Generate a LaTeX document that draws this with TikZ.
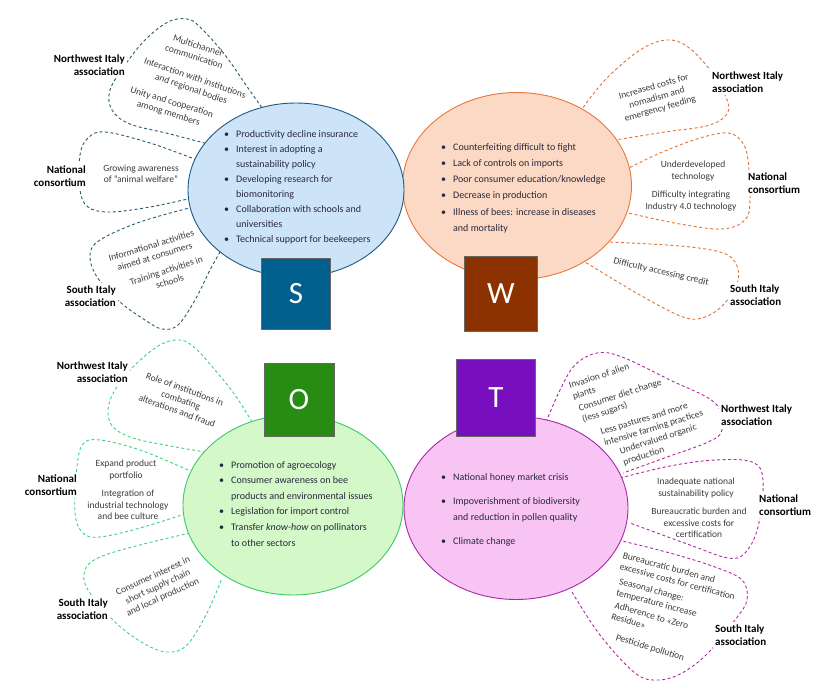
\documentclass[tikz,border=0pt]{standalone}
\usepackage{fontspec}
\setmainfont{Carlito}
\usetikzlibrary{shapes.geometric}
\definecolor{sFill}{RGB}{205,228,248}
\definecolor{sLine}{RGB}{30,90,130}
\definecolor{sDash}{RGB}{40,90,110}
\definecolor{sSq}{RGB}{0,95,140}
\definecolor{wFill}{RGB}{252,217,197}
\definecolor{wLine}{RGB}{230,120,60}
\definecolor{wDash}{RGB}{225,115,55}
\definecolor{wSq}{RGB}{140,50,0}
\definecolor{oFill}{RGB}{212,248,200}
\definecolor{oLine}{RGB}{60,200,110}
\definecolor{oDash}{RGB}{60,210,130}
\definecolor{oSq}{RGB}{40,140,20}
\definecolor{tFill}{RGB}{248,196,244}
\definecolor{tLine}{RGB}{170,40,170}
\definecolor{tDash}{RGB}{180,40,160}
\definecolor{tSq}{RGB}{120,15,190}
\definecolor{petalText}{RGB}{60,60,60}
\definecolor{listText}{RGB}{40,40,60}
\tikzset{
  petal/.style={draw=#1, dash pattern=on 3pt off 2.5pt, line width=0.9pt},
  blob/.style={ellipse, draw=#1, line width=0.9pt, inner sep=0pt},
  sq/.style={fill=#1, draw=black!60, line width=0.4pt, minimum width=69pt, minimum height=71pt, inner sep=0pt, text=white, font=\fontsize{31}{31}\selectfont},
  ptext/.style={align=center, text=petalText, font=\fontsize{9.5}{11.5}\selectfont, inner sep=0pt},
  grp/.style={fill=white, inner sep=2pt, font=\bfseries\fontsize{11}{13.5}\selectfont, text=black},
  lst/.style={anchor=base west, inner sep=0pt, text=listText, font=\fontsize{10}{15}\selectfont},
}
\newcommand\bul{\makebox[12pt][l]{\textbullet}}
\newcommand\cont{\hspace*{12pt}}
\begin{document}
\begin{tikzpicture}[x=1pt,y=-1pt]
\useasboundingbox[fill=white] (0,0) rectangle (830,699);

% ---------------- petals S ----------------
\draw[petal=sDash] plot[smooth,tension=0.6] coordinates {(265,112) (248,88) (225,55) (200,27) (187,19) (168,22) (145,40) (125,65) (110,90) (112,110) (130,124) (170,134) (212,145)};
\draw[petal=sDash] plot[smooth,tension=0.6] coordinates {(197,160) (150,143) (105,132) (88,138) (80,155) (80,190) (88,207) (110,212) (150,207) (192,198)};
\draw[petal=sDash] plot[smooth,tension=0.6] coordinates {(193,207) (140,222) (100,240) (90,255) (97,277) (120,302) (145,320) (162,329) (178,325) (195,300) (210,270) (220,252)};
% ---------------- petals W ----------------
\draw[petal=wDash] plot[smooth,tension=0.6] coordinates {(580,112) (605,80) (640,50) (667,40) (688,47) (710,70) (725,95) (728,112) (710,125) (665,132) (615,140)};
\draw[petal=wDash] plot[smooth,tension=0.6] coordinates {(625,170) (660,153) (700,138) (728,133) (742,142) (748,160) (750,200) (745,220) (722,229) (680,224) (628,213)};
\draw[petal=wDash] plot[smooth,tension=0.6] coordinates {(610,242) (680,246) (720,252) (735,262) (738,280) (725,303) (705,317) (683,317) (640,295) (585,262)};
% ---------------- petals O ----------------
\draw[petal=oDash] plot[smooth,tension=0.6] coordinates {(252,422) (235,395) (215,370) (195,348) (180,340) (160,345) (135,365) (115,390) (108,410) (113,427) (133,438) (165,445) (205,452)};
\draw[petal=oDash] plot[smooth,tension=0.6] coordinates {(188,470) (140,450) (100,440) (83,444) (77,467) (75,513) (83,533) (100,537) (140,528) (188,513)};
\draw[petal=oDash] plot[smooth,tension=0.6] coordinates {(190,533) (140,545) (100,557) (85,570) (88,590) (115,622) (143,643) (167,652) (187,645) (207,613) (222,578)};
% ---------------- petals T ----------------
\draw[petal=tDash] plot[smooth,tension=0.6] coordinates {(546,422) (560,390) (575,365) (597,353) (622,357) (670,380) (715,403) (722,430) (708,442) (670,456) (623,473)};
\draw[petal=tDash] plot[smooth,tension=0.6] coordinates {(620,478) (670,466) (715,460) (752,462) (763,480) (758,527) (745,553) (728,558) (690,545) (630,523)};
\draw[petal=tDash] plot[smooth,tension=0.6] coordinates {(618,540) (670,553) (715,567) (742,580) (747,600) (735,620) (708,653) (682,673) (658,680) (635,673) (600,635) (572,592)};

% ---------------- ellipses ----------------
\node[blob=wLine, fill=wFill, minimum width=229pt, minimum height=187pt] (W) at (517,186) {};
\node[blob=sLine, fill=sFill, minimum width=216pt, minimum height=174pt] (S) at (296,190) {};
\node[blob=tLine, fill=tFill, minimum width=224pt, minimum height=183pt] (T) at (516,508) {};
\node[blob=oLine, fill=oFill, minimum width=220pt, minimum height=180pt] (O) at (293,505) {};

% ---------------- squares ----------------
\node[sq=sSq] (Sq) at (296,294) {S};
\node[sq=wSq, minimum width=73pt, minimum height=75pt] (Wq) at (501,294) {W};
\node[sq=oSq, minimum width=70pt, minimum height=73pt] (Oq) at (299,400) {O};
\node[sq=tSq, minimum width=79pt, minimum height=77pt] (Tq) at (496,398) {T};

% ---------------- lists ----------------
\node[lst] (Slist) at (224,137) {\begin{tabular}[t]{@{}l@{}}
\bul Productivity decline insurance\\
\bul Interest in adopting a\\
\cont sustainability policy\\
\bul Developing research for\\
\cont biomonitoring\\
\bul Collaboration with schools and\\
\cont universities\\
\bul Technical support for beekeepers
\end{tabular}};
\node[lst, font=\fontsize{10}{16.3}\selectfont] (Wlist) at (441,150) {\begin{tabular}[t]{@{}l@{}}
\bul Counterfeiting difficult to fight\\
\bul Lack of controls on imports\\
\bul Poor consumer education/knowledge\\
\bul Decrease in production\\
\bul Illness of bees: increase in diseases\\
\cont and mortality
\end{tabular}};
\node[lst, font=\fontsize{10}{15.6}\selectfont] (Olist) at (219,468) {\begin{tabular}[t]{@{}l@{}}
\bul Promotion of agroecology\\
\bul Consumer awareness on bee\\
\cont products and environmental issues\\
\bul Legislation for import control\\
\bul Transfer \textit{know-how} on pollinators\\
\cont to other sectors
\end{tabular}};
\node[lst, font=\fontsize{10}{16}\selectfont] (Tlist) at (441,480) {\begin{tabular}[t]{@{}l@{}}
\bul National honey market crisis\\[8pt]
\bul Impoverishment of biodiversity\\
\cont and reduction in pollen quality\\[8pt]
\bul Climate change
\end{tabular}};

% ---------------- petal texts S ----------------
\node[ptext, rotate=-18] (s1) at (196,51) {Multichannel\\communication};
\node[ptext, rotate=-19] (s2) at (193,84) {Interaction with institutions\\and regional bodies};
\node[ptext, rotate=-17] (s3) at (170,108) {Unity and cooperation\\among members};
\node[ptext] (s4) at (141,174) {Growing awareness\\of "animal welfare"};
\node[ptext, rotate=17] (s5) at (153,251) {Informational activities\\aimed at consumers};
\node[ptext, rotate=18] (s6) at (168,276) {Training activities in\\schools};
% ---------------- petal texts W ----------------
\node[ptext, rotate=16] (w1) at (657,98) {Increased costs for\\nomadism and\\emergency feeding};
\node[ptext] (w2) at (693,171) {Underdeveloped\\technology};
\node[ptext] (w3) at (691,201) {Difficulty integrating\\Industry 4.0 technology};
\node[ptext, rotate=-13] (w4) at (661,272) {Difficulty accessing credit};
% ---------------- petal texts O ----------------
\node[ptext, rotate=-20] (o1) at (181,400) {Role of institutions in\\combating\\alterations and fraud};
\node[ptext] (o2) at (126,470) {Expand product\\portfolio};
\node[ptext] (o3) at (128,505) {Integration of\\industrial technology\\and bee culture};
\node[ptext, rotate=25] (o4) at (158,587) {Consumer interest in\\short supply chain\\and local production};
% ---------------- petal texts T ----------------
\node[ptext, align=left, rotate=18] (t1) at (601,382) {Invasion of alien\\plants};
\node[ptext, align=left, rotate=18] (t2) at (622,401) {Consumer diet change\\(less sugars)};
\node[ptext, align=left, rotate=17] (t3) at (652,423) {Less pastures and more\\intensive farming practices};
\node[ptext, align=left, rotate=18] (t4) at (660,445) {Undervalued organic\\production};
\node[ptext] (t5) at (696,488) {Inadequate national\\sustainability policy};
\node[ptext] (t6) at (699,523) {Bureaucratic burden and\\excessive costs for\\certification};
\node[ptext, align=left, rotate=-15] (t7) at (679,576) {Bureaucratic burden and\\excessive costs for certification};
\node[ptext, align=left, rotate=-15] (t8) at (658,598) {Seasonal change:\\temperature increase};
\node[ptext, align=left, rotate=-16] (t9) at (650,621) {Adherence to «Zero\\Residue»};
\node[ptext, rotate=-17] (t10) at (650,648) {Pesticide pollution};

% ---------------- group labels ----------------
\node[grp, anchor=east, align=right] (sg1) at (127,65) {Northwest Italy\\association};
\node[grp, anchor=east, align=right] (sg2) at (88,176) {National\\consortium};
\node[grp, anchor=east, align=right] (sg3) at (118,296) {South Italy\\association};
\node[grp, anchor=west, align=left] (wg1) at (710,82) {Northwest Italy\\association};
\node[grp, anchor=west, align=left] (wg2) at (746,183) {National\\consortium};
\node[grp, anchor=west, align=left] (wg3) at (728,295) {South Italy\\association};
\node[grp, anchor=east, align=right] (og1) at (130,372) {Northwest Italy\\association};
\node[grp, anchor=east, align=right] (og2) at (79,485) {National\\consortium};
\node[grp, anchor=east, align=right] (og3) at (110,609) {South Italy\\association};
\node[grp, anchor=west, align=left] (tg1) at (719,415) {Northwest Italy\\association};
\node[grp, anchor=west, align=left] (tg2) at (757,505) {National\\consortium};
\node[grp, anchor=west, align=left] (tg3) at (713,635) {South Italy\\association};
\end{tikzpicture}
\end{document}
